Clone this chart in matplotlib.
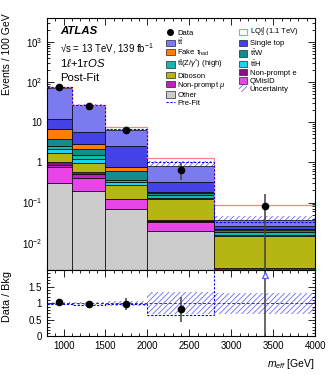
import matplotlib
matplotlib.use("Agg")
import matplotlib.pyplot as plt
import numpy as np
from matplotlib.ticker import MultipleLocator, FuncFormatter, NullFormatter, LogLocator
from matplotlib.patches import Patch
from matplotlib.lines import Line2D

plt.rcParams['font.family'] = ['Liberation Sans', 'DejaVu Sans']
plt.rcParams['mathtext.fontset'] = 'custom'
plt.rcParams['mathtext.rm'] = 'Liberation Sans'
plt.rcParams['mathtext.it'] = 'Liberation Sans:italic'
plt.rcParams['mathtext.bf'] = 'Liberation Sans:bold'
plt.rcParams['hatch.linewidth'] = 0.6

# bins in m_eff [GeV]
edges = [800, 1100, 1500, 2000, 2800, 4000]
data_x = [950, 1300, 1750, 2400, 3400]

# events / 100 GeV, post-fit background contributions (bottom of stack first)
other = [0.31, 0.19, 0.071, 0.02, 0.0005]
qmisid = [0.46, 0.22, 0.049, 0.012, 0.0003]
np_mu = [0.11, 0.09, 0.002, 0.002, 0.0007]
np_e = [0.17, 0.08, 0.003, 0.002, 0.0009]
diboson = [0.65, 0.40, 0.155, 0.084, 0.0121]
tth = [0.40, 0.22, 0.04, 0.01, 0.0015]
ttz = [0.40, 0.30, 0.055, 0.02, 0.0025]
ttw = [1.30, 0.60, 0.225, 0.025, 0.0025]
fake_tau = [3.0, 0.85, 0.15, 0.005, 0.001]
single_top = [5.5, 2.75, 1.75, 0.15, 0.004]
ttbar = [60.7, 21.3, 4.0, 0.47, 0.010]

lq_signal = [0.3, 0.4, 0.9, 0.5, 0.049]
prefit = [76.5, 27.5, 6.6, 1.0, 0.032]
unc_frac = [0.05, 0.04, 0.07, 0.33, 0.31]

data = [75, 26, 6.4, 0.65, 0.083]
data_err = [5.0, 2.55, 1.13, 0.29, 0.083]

TT = r'$\mathrm{t\bar{t}}$'
TTW = r'$\mathrm{t\bar{t}W}$'
TTH = r'$\mathrm{t\bar{t}H}$'
TTZ = r'$\mathrm{t\bar{t}(Z/}\gamma^{*}\mathrm{)}$ (high)'
FAKE = r'Fake $\tau_{\mathrm{had}}$'
NPMU = r'Non-prompt $\mu$'

stack = [
    (other, '#cccccc', 'Other'),
    (qmisid, '#e845e8', 'QMisID'),
    (np_mu, '#c21fc2', NPMU),
    (np_e, '#8b0f8b', 'Non-prompt e'),
    (diboson, '#b5b514', 'Diboson'),
    (tth, '#1ed2f5', TTH),
    (ttz, '#14b8b0', TTZ),
    (ttw, '#158c8c', TTW),
    (fake_tau, '#ff7f00', FAKE),
    (single_top, '#4343e8', 'Single top'),
    (ttbar, '#7b7bef', TT),
]

lefts = np.array(edges[:-1])
widths = np.diff(edges)
hatch_col = '#6a6aff'

fig = plt.figure(figsize=(3.32, 3.75), dpi=100)
ax = fig.add_axes([0.141, 0.28, 0.808, 0.673])
rax = fig.add_axes([0.141, 0.1027, 0.808, 0.1773], sharex=ax)

bottom = np.zeros(5)
handles = {}
for vals, col, lab in stack:
    vals = np.array(vals)
    ax.bar(lefts, vals, width=widths, bottom=bottom, align='edge', color=col,
           edgecolor='black', linewidth=0.5, zorder=2)
    handles[lab] = Patch(facecolor=col, edgecolor='black', linewidth=0.4)
    bottom = bottom + vals
total = bottom

# uncertainty band sits behind the stack
ax.bar(lefts, 2 * np.array(unc_frac) * total, width=widths,
       bottom=total * (1 - np.array(unc_frac)), align='edge', fill=False,
       hatch='//////', edgecolor=hatch_col, linewidth=0, zorder=1)
ax.stairs(total + np.array(lq_signal), edges, baseline=None, color='#ff8080', lw=0.9, zorder=3)
ax.stairs(prefit, edges, baseline=None, color='blue', ls=(0, (2, 1.5)), lw=0.8, zorder=3)
ax.errorbar(data_x, data, yerr=data_err, fmt='o', color='black', ms=4.5,
            ecolor='#404040', elinewidth=1.1, capsize=0, zorder=4)

ax.set_yscale('log')
ax.set_ylim(0.0021, 4000)
ax.set_xlim(800, 4000)


def log_fmt(v, pos):
    e = int(round(np.log10(v)))
    if e == 0:
        return '1'
    if e == 1:
        return '10'
    return r'$10^{%d}$' % e


ax.yaxis.set_major_formatter(FuncFormatter(log_fmt))
ax.yaxis.set_minor_locator(LogLocator(subs=np.arange(2, 10), numticks=20))
ax.yaxis.set_minor_formatter(NullFormatter())
ax.set_ylabel('Events / 100 GeV', loc='top', fontsize=7.5)
ax.yaxis.set_label_coords(-0.128, 1.015)
plt.setp(ax.get_xticklabels(), visible=False)

tx = 0.05
ax.text(tx, 0.947, 'ATLAS', transform=ax.transAxes, fontsize=8.2, fontweight='bold',
        fontstyle='italic', va='center')
ax.text(tx, 0.878, '√s = 13 TeV, 139 fb$^{-1}$', transform=ax.transAxes, fontsize=6.9, va='center')
ax.text(tx, 0.822, r'1$\ell$+1$\tau OS$', transform=ax.transAxes, fontsize=8.2, va='center')
ax.text(tx, 0.761, 'Post-Fit', transform=ax.transAxes, fontsize=8.2, va='center')

data_h = Line2D([], [], marker='o', color='black', ls='none', ms=4)
lq_h = Patch(facecolor='white', edgecolor='#ff8080', linewidth=0.8)
unc_h = Patch(facecolor='white', edgecolor=hatch_col, hatch='//////', linewidth=0)
pre_h = Line2D([], [], color='blue', ls=(0, (2, 1.5)), lw=0.8)
leg_handles = [data_h, handles[TT], handles[FAKE], handles[TTZ], handles['Diboson'],
               handles[NPMU], handles['Other'], pre_h,
               lq_h, handles['Single top'], handles[TTW], handles[TTH],
               handles['Non-prompt e'], handles['QMisID'], unc_h]
leg_labels = ['Data', TT, FAKE, TTZ, 'Diboson', NPMU, 'Other', 'Pre-Fit',
              r'LQ$_{3}^{\mathrm{d}}$ (1.1 TeV)', 'Single top', TTW, TTH,
              'Non-prompt e', 'QMisID', 'Uncertainty']
ax.legend(leg_handles, leg_labels, ncol=2, loc='upper left', bbox_to_anchor=(0.445, 0.967),
          fontsize=5.5, frameon=False, borderpad=0, borderaxespad=0, labelspacing=0.04,
          handlelength=1.1, handleheight=0.9, handletextpad=0.35, columnspacing=1.7)

# ratio panel
ratio = np.array(data) / total
ratio_err = np.array(data_err) / total
rax.bar(lefts, 2 * np.array(unc_frac), width=widths, bottom=1 - np.array(unc_frac),
        align='edge', fill=False, hatch='//////', edgecolor=hatch_col, linewidth=0)
rax.axhline(1, color='#404040', ls=(0, (3, 2)), lw=0.7)
rax.stairs(np.array(data) / np.array(prefit), edges, baseline=None, color='blue',
           ls=(0, (2, 1.5)), lw=0.8)
rax.errorbar(data_x, ratio, yerr=ratio_err, fmt='o', color='black', ms=4.5,
             ecolor='#404040', elinewidth=1.1, capsize=0)
over = ratio > 2
rax.plot(np.array(data_x)[over], np.full(over.sum(), 1.86), marker='^', ls='none',
         mfc='white', mec='#5a5aff', ms=5, mew=0.9)
rax.set_ylim(0, 2)
rax.set_yticks([0, 0.5, 1, 1.5], ['0', '0.5', '1', '1.5'])
rax.yaxis.set_minor_locator(MultipleLocator(0.1))
rax.xaxis.set_major_locator(MultipleLocator(500))
rax.xaxis.set_minor_locator(MultipleLocator(100))
rax.set_ylabel('Data / Bkg', fontsize=7.8)
rax.yaxis.set_label_coords(-0.128, 0.6)
rax.set_xlabel(r'$m_{eff}$ [GeV]', loc='right', fontsize=7.5)

for a in (ax, rax):
    a.tick_params(which='both', direction='in', top=True, right=True, labelsize=7, width=0.6)
    a.tick_params(which='major', length=5)
    a.tick_params(which='minor', length=2.5)
    for s in a.spines.values():
        s.set_linewidth(0.8)

fig.savefig('out.png', dpi=100)
